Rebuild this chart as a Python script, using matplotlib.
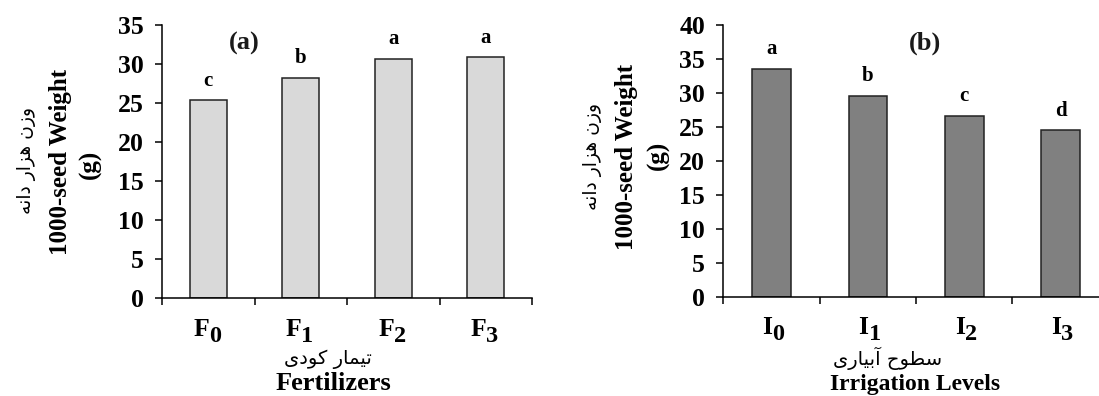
import matplotlib
matplotlib.use('Agg')
import matplotlib.pyplot as plt
import numpy as np

# data
fert_levels = ['F', 'F', 'F', 'F']
fert_subs = ['0', '1', '2', '3']
fert_weight = [25.3, 28.2, 30.6, 30.8]
fert_letters = ['c', 'b', 'a', 'a']

irr_levels = ['I', 'I', 'I', 'I']
irr_subs = ['0', '1', '2', '3']
irr_weight = [33.6, 29.6, 26.7, 24.5]
irr_letters = ['a', 'b', 'c', 'd']

fa_ylabel = 'وزن هزار دانه'
fa_fert = 'تیمار کودی'
fa_irr = 'سطوح آبیاری'

# --- minimal Persian shaping (matplotlib has no complex text layout) ---
FORMS = {  # isolated, final, initial, medial
    'ا': ('\uFE8D', '\uFE8E', None, None),
    'آ': ('\uFE81', '\uFE82', None, None),
    'ب': ('\uFE8F', '\uFE90', '\uFE91', '\uFE92'),
    'ت': ('\uFE95', '\uFE96', '\uFE97', '\uFE98'),
    'ح': ('\uFEA1', '\uFEA2', '\uFEA3', '\uFEA4'),
    'د': ('\uFEA9', '\uFEAA', None, None),
    'ر': ('\uFEAD', '\uFEAE', None, None),
    'ز': ('\uFEAF', '\uFEB0', None, None),
    'س': ('\uFEB1', '\uFEB2', '\uFEB3', '\uFEB4'),
    'ط': ('\uFEC1', '\uFEC2', '\uFEC3', '\uFEC4'),
    'م': ('\uFEE1', '\uFEE2', '\uFEE3', '\uFEE4'),
    'ن': ('\uFEE5', '\uFEE6', '\uFEE7', '\uFEE8'),
    'ه': ('\uFEE9', '\uFEEA', '\uFEEB', '\uFEEC'),
    'و': ('\uFEED', '\uFEEE', None, None),
    'ک': ('\uFB8E', '\uFB8F', '\uFB90', '\uFB91'),
    'ی': ('\uFBFC', '\uFBFD', '\uFBFE', '\uFBFF'),
}


def shape_fa(s):
    out = []
    for i, ch in enumerate(s):
        if ch not in FORMS:
            out.append(ch)
            continue
        prev = s[i - 1] if i > 0 else ' '
        nxt = s[i + 1] if i + 1 < len(s) else ' '
        join_prev = prev in FORMS and FORMS[prev][2] is not None
        join_next = nxt in FORMS and FORMS[ch][2] is not None
        iso, fin, ini, med = FORMS[ch]
        if join_prev and join_next:
            out.append(med)
        elif join_prev:
            out.append(fin)
        elif join_next:
            out.append(ini)
        else:
            out.append(iso)
    return ''.join(reversed(out))


plt.rcParams['font.family'] = 'Liberation Serif'
plt.rcParams['font.weight'] = 'bold'

W, H = 1099, 396
fig = plt.figure(figsize=(W / 100, H / 100), dpi=100)


def px(x, y):
    return x / W, 1 - y / H


def panel(rect, names, subs, vals, letters, color, ymax, tag, tagpos):
    ax = fig.add_axes(rect)
    x = np.arange(len(vals))
    ax.bar(x, vals, width=0.4, color=color, edgecolor='#222222', linewidth=1.1, zorder=2)
    for xi, v, l in zip(x, vals, letters):
        ax.annotate(l, (xi, v), xytext=(0, 10.5), textcoords='offset points',
                    ha='center', va='baseline', fontsize=15, fontweight='bold')
    ax.text(tagpos[0], tagpos[1], tag, ha='center', va='center', fontsize=19,
            fontweight='bold', color='#1a1a1a')
    # category labels with full-size subscripts, as in the original
    for xi, n, s in zip(x, names, subs):
        ax.annotate(n, (xi, 0), xycoords=('data', 'axes fraction'), xytext=(0.5, -27),
                    textcoords='offset points', ha='right', va='baseline',
                    fontsize=18.5, fontweight='bold')
        ax.annotate(s, (xi, 0), xycoords=('data', 'axes fraction'), xytext=(0.5, -31.5),
                    textcoords='offset points', ha='left', va='baseline',
                    fontsize=17.5, fontweight='bold')
    ax.set_xlim(-0.5, len(vals) - 0.5)
    ax.set_ylim(0, ymax)
    ax.set_yticks(np.arange(0, ymax + 1, 5))
    ax.set_xticks([])
    ax.set_xticks(np.arange(-0.5, len(vals), 1), minor=True)
    ax.tick_params(axis='x', which='minor', length=5, width=1.1, direction='out')
    ax.tick_params(axis='y', length=5, width=1.1, direction='out', pad=8, labelsize=18.5)
    for sp in ['top', 'right']:
        ax.spines[sp].set_visible(False)
    for sp in ['left', 'bottom']:
        ax.spines[sp].set_linewidth(1.1)
    return ax


axL = panel([162 / W, 1 - 298 / H, 370 / W, 273.5 / H], fert_levels, fert_subs,
            fert_weight, fert_letters, '#d9d9d9', 35, '(a)', (0.39, 32.6))
axR = panel([723.3 / W, 1 - 296.7 / H, 385.5 / W, 271.4 / H], irr_levels, irr_subs,
            irr_weight, irr_letters, '#808080', 40, '(b)', (1.59, 37.4))

# y labels: Persian line, English line, unit line
for (xf, yf, xe, ye, xg, yg) in [(27, 160, 60, 162, 90, 164), (592, 156, 627, 157, 658, 155)]:
    fig.text(*px(xf, yf), shape_fa(fa_ylabel), rotation=90, ha='center', va='center',
             fontsize=13.5, fontweight='normal', family='DejaVu Sans')
    fig.text(*px(xe, ye), '1000-seed Weight', rotation=90, ha='center', va='center',
             fontsize=18, fontweight='bold')
    fig.text(*px(xg, yg), '(g)', rotation=90, ha='center', va='center',
             fontsize=18, fontweight='bold')

# x labels
fig.text(*px(328, 359), shape_fa(fa_fert), ha='center', va='center',
         fontsize=14, fontweight='normal', family='DejaVu Sans')
fig.text(*px(333, 390), 'Fertilizers', ha='center', va='baseline', fontsize=19, fontweight='bold')
fig.text(*px(888, 358), shape_fa(fa_irr), ha='center', va='center',
         fontsize=14, fontweight='normal', family='DejaVu Sans')
fig.text(*px(915, 390), 'Irrigation Levels', ha='center', va='baseline', fontsize=17, fontweight='bold')

fig.savefig('out.png', dpi=100)
